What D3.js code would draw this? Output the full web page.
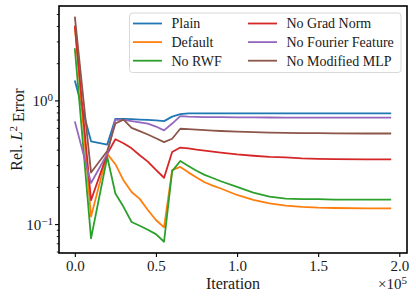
<!DOCTYPE html>
<meta charset="utf-8">
<script src="https://d3js.org/d3.v7.min.js"></script>
<style>
body{margin:0;background:#fff}
.domain{display:none}
</style>
<body>
<div id="chart"></div>
<script>
// iterations logged (shared by every run)
var iters=[0,10000,20000,25000,30000,35000,40000,45000,50000,55000,60000,65000,70000,75000,80000,85000,90000,100000,110000,120000,130000,140000,150000,160000,180000,195000];

var plain=[1.45,0.467,0.44,0.71,0.71,0.705,0.70,0.695,0.69,0.68,0.74,0.775,0.785,0.786,0.786,0.786,0.785,0.785,0.785,0.785,0.785,0.785,0.785,0.785,0.785,0.785];
var deflt=[4.0,0.115,0.37,0.305,0.226,0.182,0.16,0.13,0.108,0.094,0.273,0.29,0.262,0.238,0.218,0.205,0.194,0.172,0.157,0.147,0.141,0.138,0.136,0.135,0.134,0.134];
var noRwf=[2.64,0.0767,0.349,0.177,0.138,0.104,0.097,0.09,0.083,0.072,0.268,0.324,0.295,0.27,0.25,0.236,0.222,0.2,0.18,0.167,0.161,0.159,0.159,0.158,0.158,0.158];
var noGrad=[4.03,0.156,0.37,0.485,0.45,0.41,0.36,0.32,0.275,0.237,0.383,0.416,0.41,0.40,0.392,0.385,0.378,0.366,0.357,0.35,0.346,0.34,0.337,0.335,0.334,0.334];
var noFourier=[0.677,0.215,0.37,0.70,0.695,0.68,0.665,0.65,0.615,0.573,0.65,0.747,0.74,0.736,0.734,0.733,0.732,0.73,0.729,0.728,0.727,0.727,0.726,0.726,0.725,0.725];
var noMlp=[4.76,0.261,0.39,0.65,0.70,0.60,0.565,0.53,0.495,0.46,0.49,0.59,0.585,0.58,0.575,0.57,0.566,0.56,0.555,0.55,0.547,0.545,0.543,0.542,0.54,0.54];

var names=["Plain","Default","No RWF","No Grad Norm","No Fourier Feature","No Modified MLP"];
var colors=["#1f77b4","#ff7f0e","#2ca02c","#d62728","#9467bd","#8c564b"];
var series=[plain,deflt,noRwf,noGrad,noFourier,noMlp];

var xTicks=[0,50000,100000,150000,200000];
var yMajor=[0.1,1];
var yMinor=[0.06,0.07,0.08,0.09,0.2,0.3,0.4,0.5,0.6,0.7,0.8,0.9,2,3,4,5];

var W=416,H=298;
var L=59,R=407,T=6,B=253;
var FONT="'Liberation Serif', 'DejaVu Serif', serif";

var svg=d3.select("#chart").append("svg")
    .attr("width",W)
    .attr("height",H)
    .attr("font-family",FONT);

var x=d3.scaleLinear().domain([-9750,204750]).range([L,R]);
var y=d3.scaleLog().domain([0.0584,5.8]).range([B,T]);

var line=d3.line()
    .x(function(d,i){return x(iters[i]);})
    .y(function(d){return y(d);});

svg.append("clipPath").attr("id","clip")
    .append("rect").attr("x",L).attr("y",T).attr("width",R-L).attr("height",B-T);

var lines=svg.append("g").attr("clip-path","url(#clip)");
series.forEach(function(s,k){
  lines.append("path")
    .datum(s)
    .attr("d",line)
    .attr("fill","none")
    .attr("stroke",colors[k])
    .attr("stroke-width",1.8)
    .attr("stroke-linejoin","round");
});

// x axis
var xa=svg.append("g")
    .attr("transform","translate(0,"+B+")")
    .call(d3.axisBottom(x).tickValues(xTicks).tickSize(4).tickPadding(3)
      .tickFormat(function(d){return (d/1e5).toFixed(1);}));
xa.attr("font-family",FONT);
xa.selectAll("line").attr("stroke","#000").attr("stroke-width",1.1);
xa.selectAll("text").style("font-family",FONT).style("font-size","15px").attr("fill","#1a1a1a");

// y axis minor
var ym=svg.append("g")
    .attr("transform","translate("+L+",0)")
    .call(d3.axisLeft(y).tickValues(yMinor).tickSize(2.2).tickFormat(""));
ym.selectAll("line").attr("stroke","#000").attr("stroke-width",0.9);

// y axis major
var ya=svg.append("g")
    .attr("transform","translate("+L+",0)")
    .call(d3.axisLeft(y).tickValues(yMajor).tickSize(4).tickFormat(""));
ya.attr("font-family",FONT);
ya.selectAll("line").attr("stroke","#000").attr("stroke-width",1.1);
ya.selectAll(".tick").append("text")
    .attr("x",-6).attr("dy","0.35em")
    .attr("text-anchor","end")
    .attr("fill","#1a1a1a")
    .style("font-family",FONT)
    .style("font-size","15px")
    .each(function(d){
      var t=d3.select(this);
      t.append("tspan").text("10");
      t.append("tspan").attr("dy","-0.45em").style("font-size","11px")
        .text(d===1?"0":"\u22121");
    });

// frame
svg.append("rect")
    .attr("x",L).attr("y",T).attr("width",R-L).attr("height",B-T)
    .attr("fill","none").attr("stroke","#000").attr("stroke-width",1.6);

// labels
svg.append("text")
    .attr("x",(L+R)/2).attr("y",289)
    .attr("text-anchor","middle")
    .attr("fill","#1a1a1a")
    .style("font-family",FONT)
    .style("font-size","16px")
    .text("Iteration");

var off=svg.append("text")
    .attr("x",R).attr("y",289)
    .attr("text-anchor","end")
    .attr("fill","#1a1a1a")
    .style("font-family",FONT)
    .style("font-size","15px");
off.append("tspan").text("\u00d710");
off.append("tspan").attr("dy","-0.45em").style("font-size","11px").text("5");

var yl=svg.append("text")
    .attr("transform","translate(22,"+((T+B)/2)+") rotate(-90)")
    .attr("text-anchor","middle")
    .attr("fill","#1a1a1a")
    .style("font-family",FONT)
    .style("font-size","16px");
yl.append("tspan").text("Rel. ");
yl.append("tspan").style("font-style","italic").text("L");
yl.append("tspan").attr("dy","-0.45em").style("font-size","11px").text("2");
yl.append("tspan").attr("dy","0.45em").text(" Error");

// legend
var lg=svg.append("g");
lg.append("rect")
    .attr("x",129.5).attr("y",13).attr("width",271.5).attr("height",59.5)
    .attr("rx",3)
    .attr("fill","#fff").attr("fill-opacity",0.8)
    .attr("stroke","#d8d8d8").attr("stroke-width",1);
var colX=[133,248];
names.forEach(function(n,k){
  var cx=colX[Math.floor(k/3)], cy=23.5+(k%3)*18.6;
  lg.append("line")
    .attr("x1",cx).attr("x2",cx+29)
    .attr("y1",cy).attr("y2",cy)
    .attr("stroke",colors[k]).attr("stroke-width",1.8);
  lg.append("text")
    .attr("x",cx+38.5).attr("y",cy).attr("dy","0.35em")
    .attr("fill","#1a1a1a")
    .style("font-family",FONT)
    .style("font-size","14px")
    .text(n);
});
</script>
</body>
</html>
